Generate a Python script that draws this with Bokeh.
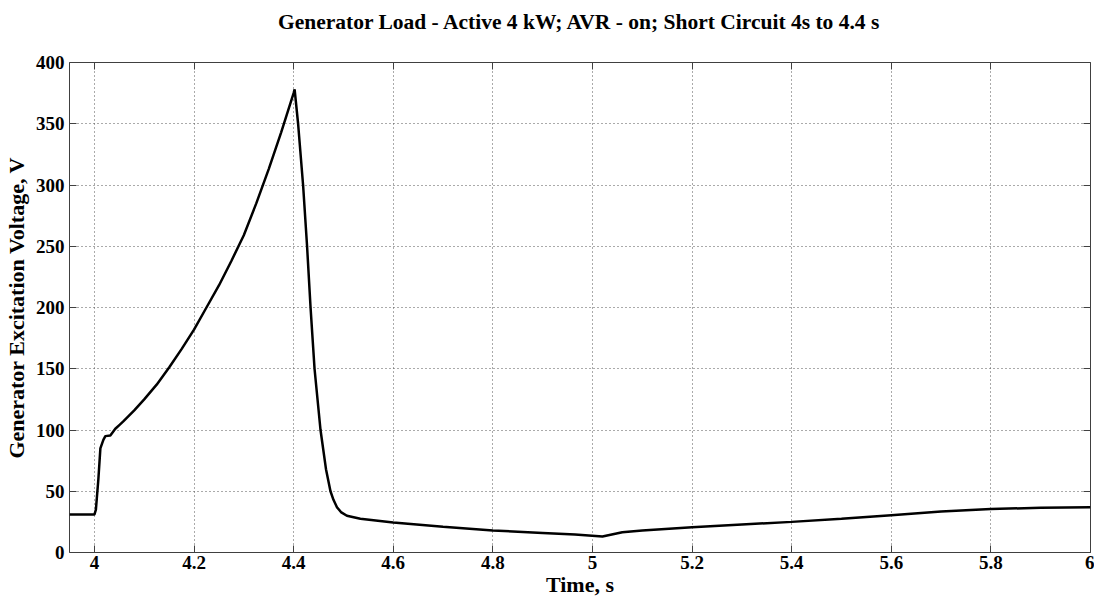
from bokeh.plotting import figure
from bokeh.models import LinearAxis, FixedTicker, Range1d, Title
from bokeh.embed import file_html
from bokeh.resources import INLINE

# Data
time_s = [3.95, 4.0, 4.003, 4.008, 4.012, 4.018, 4.022, 4.032, 4.042, 4.05, 4.058, 4.08,
          4.1, 4.125, 4.15, 4.175, 4.2, 4.225, 4.25, 4.275, 4.3, 4.325, 4.35, 4.375,
          4.4, 4.402, 4.409, 4.419, 4.427, 4.434, 4.442, 4.454, 4.465, 4.474, 4.48,
          4.487, 4.495, 4.507, 4.534, 4.6, 4.7, 4.8, 4.9, 4.965, 5.02, 5.06, 5.1, 5.2,
          5.3, 5.4, 5.5, 5.6, 5.7, 5.8, 5.9, 6.0]
voltage = [31, 31, 35, 60, 85, 92, 95, 95.5, 101, 104, 107, 116,
           125, 137, 151, 166, 182, 200, 218, 238, 259, 285, 313, 343,
           375, 378, 350, 300, 250, 200, 150, 100, 68, 50, 43,
           37, 33, 30, 27.6, 24.5, 21, 18, 16, 14.7, 13, 16.6, 18, 20.7,
           22.9, 25, 27.5, 30.5, 33.5, 35.5, 36.5, 37]

x_ticks = [4.0, 4.2, 4.4, 4.6, 4.8, 5.0, 5.2, 5.4, 5.6, 5.8, 6.0]
x_tick_labels = ["4", "4.2", "4.4", "4.6", "4.8", "5", "5.2", "5.4", "5.6", "5.8", "6"]
y_ticks = [0, 50, 100, 150, 200, 250, 300, 350, 400]

title_text = "Generator Load - Active 4 kW; AVR - on; Short Circuit 4s to 4.4 s"
x_label = "Time, s"
y_label = "Generator Excitation Voltage, V"

FONT = "Liberation Serif"
FRAME_W, FRAME_H = 1021, 490

p = figure(
    output_backend="svg", toolbar_location=None,
    frame_width=FRAME_W, frame_height=FRAME_H,
    min_border_left=66, min_border_right=4, min_border_top=62, min_border_bottom=40,
    x_range=Range1d(3.95, 6.0), y_range=Range1d(0, 400),
)

p.outline_line_color = "#404040"
p.outline_line_width = 1
p.background_fill_color = "white"
p.border_fill_color = "white"

p.line(time_s, voltage, line_color="black", line_width=2.5)

def style_axis(ax, labels=True):
    ax.axis_line_color = None
    ax.major_tick_in = 7
    ax.major_tick_out = 0
    ax.minor_tick_line_color = None
    ax.major_tick_line_color = "#404040"
    ax.major_tick_line_width = 1
    ax.major_label_text_font = FONT
    ax.major_label_text_font_style = "bold"
    ax.major_label_text_font_size = "19px"
    ax.major_label_text_color = "black"
    ax.axis_label_text_font = FONT
    ax.axis_label_text_font_style = "bold"
    ax.axis_label_text_font_size = "22px"
    ax.axis_label_text_color = "black"
    if not labels:
        ax.major_label_text_font_size = "0px"
        ax.major_label_text_color = None

xa = p.xaxis[0]
xa.ticker = FixedTicker(ticks=x_ticks)
xa.major_label_overrides = {t: l for t, l in zip(x_ticks, x_tick_labels)}
xa.axis_label = x_label
xa.axis_label_standoff = 0
xa.major_label_standoff = 3
style_axis(xa)

ya = p.yaxis[0]
ya.ticker = FixedTicker(ticks=y_ticks)
ya.axis_label = y_label
ya.axis_label_standoff = 4
ya.major_label_standoff = 5
style_axis(ya)

# mirrored ticks on top and right (no labels)
top = LinearAxis(ticker=FixedTicker(ticks=x_ticks))
style_axis(top, labels=False)
p.add_layout(top, "above")

right = LinearAxis(ticker=FixedTicker(ticks=y_ticks))
style_axis(right, labels=False)
p.add_layout(right, "right")

# title: a trailing empty line makes its box taller, so the visible line sits higher
title = Title(
    text=title_text + "\n", align="center", vertical_align="top", standoff=6,
    text_font=FONT, text_font_style="bold", text_font_size="21.5px", text_color="black",
)
p.add_layout(title, "above")

p.xgrid.ticker = FixedTicker(ticks=x_ticks)
p.ygrid.ticker = FixedTicker(ticks=y_ticks)
for g in (p.xgrid[0], p.ygrid[0]):
    g.grid_line_color = "#555555"
    g.grid_line_dash = "1 3"
    g.grid_line_width = 1

open("out.html", "w").write(file_html(p, INLINE))
